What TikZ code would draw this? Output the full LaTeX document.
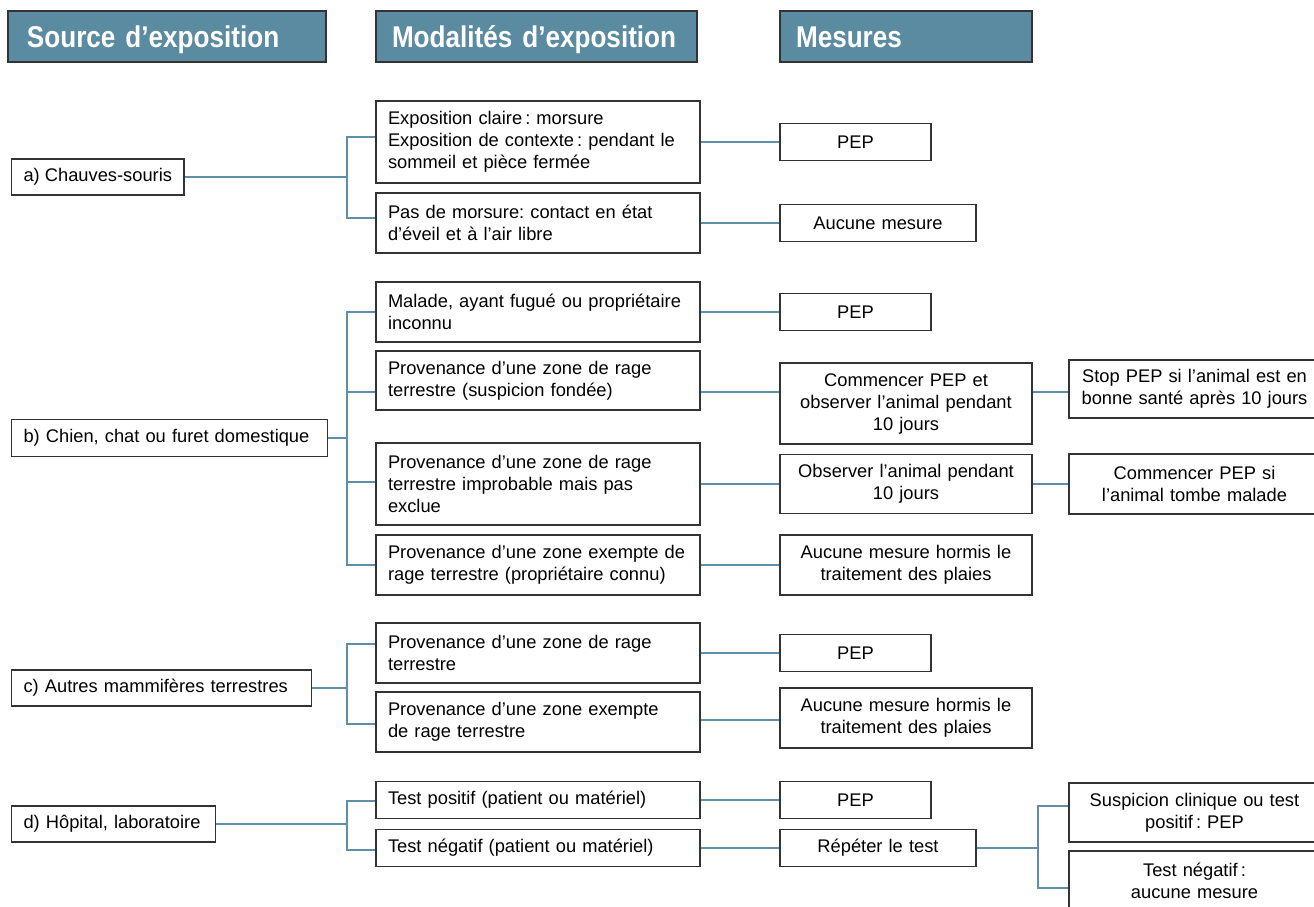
\documentclass[tikz,border=0pt]{standalone}
\usepackage{fontspec}
\setmainfont{Liberation Sans}
\newfontfamily\headfont[FakeStretch=0.87]{Liberation Sans}
\usetikzlibrary{calc}
\definecolor{headblue}{HTML}{5A8BA0}
\definecolor{linkblue}{HTML}{5E8FA6}
\definecolor{boxline}{HTML}{333333}
\newcommand{\bodyfont}{\frenchspacing\hyphenpenalty=10000\fontsize{18.3}{22}\selectfont}
\tikzset{
  head/.style={draw=boxline, line width=1.2pt, fill=headblue, text=white,
    font=\headfont\bfseries\fontsize{30}{34}\selectfont, align=left,
    inner xsep=16pt, inner ysep=0pt, minimum height=51pt, text height=24pt, text depth=2pt},
  src/.style={draw=boxline, line width=1.1pt, inner xsep=12pt, inner ysep=0pt,
    anchor=west, align=left, font=\bodyfont},
  mod/.style={draw=boxline, line width=1.1pt, align=left, text width=300pt, inner xsep=12pt,
    inner ysep=0pt, font=\bodyfont},
  mes/.style={draw=boxline, line width=1.1pt, align=center, inner xsep=6pt, inner ysep=0pt,
    font=\bodyfont},
  link/.style={draw=linkblue, line width=1.3pt}
}
\begin{document}
\begin{tikzpicture}[x=1pt,y=-1pt]
\useasboundingbox (0,0) rectangle (1314,906);
\clip (0,0) rectangle (1314,906);
% headers
\node[head, inner xsep=19pt, text width=280pt] (H1) at (167,36.5) {Source d’exposition};
\node[head, text width=289pt] (H2) at (536.5,36.5) {Modalités d’exposition};
\node[head, text width=220pt] (H3) at (906,36.5) {Mesures};

% ---------- a ----------
\node[src, minimum height=36pt] (A) at (11,177) {a) Chauves-souris};
\node[mod, minimum height=82pt] (M1) at (538,142) {Exposition claire\,: morsure\\Exposition de contexte\,: pendant le\\sommeil et pièce fermée};
\node[mod, minimum height=60pt] (M2) at (538,223) {Pas de morsure: contact en état\\d’éveil et à l’air libre};
\node[mes, text width=139pt, minimum height=37pt] (Pa) at (855.5,142) {PEP};
\node[mes, text width=184pt, minimum height=37pt] (Na) at (878,223) {Aucune mesure};
\coordinate (ja) at (347,177);
\draw[link] (A.east) -- (ja);
\draw[link] ($(M1.west)+(0,-5)$) -| (ja) |- ($(M2.west)+(0,-5)$);
\draw[link] (M1.east) -- (M1.east -| Pa.west);
\draw[link] (M2.east) -- (M2.east -| Na.west);

% ---------- b ----------
\node[src, text width=292pt, minimum height=37pt] (B) at (11,438) {b) Chien, chat ou furet domestique};
\node[mod, minimum height=60pt] (B1) at (538,312) {Malade, ayant fugué ou propriétaire\\inconnu};
\node[mod, minimum height=59pt] (B2) at (538,380.5) {Provenance d’une zone de rage\\terrestre (suspicion fondée)};
\node[mod, minimum height=82pt] (B3) at (538,484) {Provenance d’une zone de rage\\terrestre improbable mais pas\\exclue};
\node[mod, minimum height=60pt] (B4) at (538,565) {Provenance d’une zone exempte de\\rage terrestre (propriétaire connu)};
\node[mes, text width=139pt, minimum height=37pt] (Pb) at (855.5,312) {PEP};
\node[mes, text width=240pt, minimum height=81pt] (CM) at (906,403.5) {Commencer PEP et\\observer l’animal pendant\\10 jours};
\node[mes, text width=240pt, minimum height=59pt] (OB) at (906,484) {Observer l’animal pendant\\10 jours};
\node[mes, text width=240pt, minimum height=60pt] (Nb) at (906,565) {Aucune mesure hormis le\\traitement des plaies};
\node[mes, text width=239pt, minimum height=58pt] (ST) at (1194.5,389) {Stop PEP si l’animal est en\\bonne santé après 10 jours};
\node[mes, text width=239pt, minimum height=60pt] (CS) at (1194.5,484) {Commencer PEP si\\l’animal tombe malade};
\coordinate (jb) at (347,438);
\draw[link] (B.east) -- (jb);
\draw[link] (B1.west) -| (jb) |- (B4.west);
\draw[link] ($(B2.west)+(0,11.5)$) coordinate (b2l) -- (b2l -| jb);
\draw[link] ($(B3.west)+(0,-2)$) coordinate (b3l) -- (b3l -| jb);
\draw[link] (B1.east) -- (B1.east -| Pb.west);
\draw[link] ($(B2.east)+(0,11.5)$) coordinate (b2r) -- (b2r -| CM.west);
\draw[link] (b2r -| CM.east) -- (b2r -| ST.west);
\draw[link] (B3.east) -- (B3.east -| OB.west);
\draw[link] (OB.east) -- (OB.east -| CS.west);
\draw[link] (B4.east) -- (B4.east -| Nb.west);

% ---------- c ----------
\node[src, text width=276pt, minimum height=36pt] (C) at (11,688) {c) Autres mammifères terrestres};
\node[mod, minimum height=60pt] (C1) at (538,653) {Provenance d’une zone de rage\\terrestre};
\node[mod, minimum height=60pt] (C2) at (538,722) {Provenance d’une zone exempte\\de rage terrestre};
\node[mes, text width=139pt, minimum height=37pt] (Pc) at (855.5,653) {PEP};
\node[mes, text width=240pt, minimum height=60pt] (Nc) at (906,718) {Aucune mesure hormis le\\traitement des plaies};
\coordinate (jc) at (347,688);
\draw[link] (C.east) -- (jc);
\draw[link] ($(C1.west)+(0,-9)$) -| (jc) |- ($(C2.west)+(0,2)$);
\draw[link] (C1.east) -- (C1.east -| Pc.west);
\draw[link] ($(C2.east)+(0,-2)$) coordinate (c2r) -- (c2r -| Nc.west);

% ---------- d ----------
\node[src, text width=180pt, minimum height=36pt] (D) at (11,824) {d) Hôpital, laboratoire};
\node[mod, minimum height=37pt] (D1) at (538,800) {Test positif (patient ou matériel)};
\node[mod, minimum height=37pt] (D2) at (538,848) {Test négatif (patient ou matériel)};
\node[mes, text width=139pt, minimum height=37pt] (Pd) at (855.5,800) {PEP};
\node[mes, text width=184pt, minimum height=37pt] (RT) at (878,848) {Répéter le test};
\node[mes, text width=239pt, minimum height=59pt] (SU) at (1194.5,812.5) {Suspicion clinique ou test\\positif\,: PEP};
\node[mes, text width=239pt, minimum height=60pt] (TN) at (1194.5,881) {Test négatif\,:\\aucune mesure};
\coordinate (jd) at (347,824);
\draw[link] (D.east) -- (jd);
\draw[link] ($(D1.west)+(0,1)$) -| (jd) |- ($(D2.west)+(0,2)$);
\draw[link] (D1.east) -- (D1.east -| Pd.west);
\draw[link] (D2.east) -- (D2.east -| RT.west);
\coordinate (je) at (1038,848);
\draw[link] (RT.east) -- (je);
\draw[link] ($(SU.west)+(0,-6.5)$) -| (je) |- ($(TN.west)+(0,7)$);
\end{tikzpicture}
\end{document}
